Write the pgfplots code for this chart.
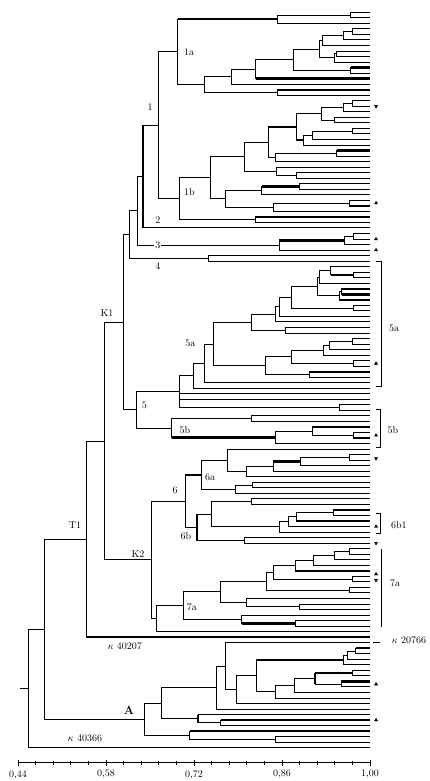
\documentclass[border=0pt]{standalone}
\usepackage{pgfplots}
\pgfplotsset{compat=1.18}
\usetikzlibrary{calc}
\begin{document}
\begin{tikzpicture}
\begin{axis}[name=ax, scale only axis, width=352pt, height=762.7pt,
  xmin=0.44, xmax=1.00, ymin=-2.224, ymax=135.70, y dir=reverse,
  axis x line=bottom, axis y line=none, clip=false,
  x axis line style={-, line width=1pt},
  xtick={0.44,0.58,0.72,0.86,1.00},
  xticklabels={{0,44},{0,58},{0,72},{0,86},{1,00}},
  minor x tick num=4, tick align=center, major tick length=6pt, minor tick length=4pt,
  tick style={black, line width=1pt},
  xticklabel style={font=\normalsize, yshift=-1pt},
  unbounded coords=jump]
% ---------- normal branches ----------
\addplot[black, line width=1pt, mark=none] table[row sep=\\] {x y\\
1 0\\ .9693 0\\ .9693 1\\ 1 1\\ nan nan\\
.9693 0.5\\ .8532 0.5\\ .8532 2\\ 1 2\\ nan nan\\
1 3\\ .9714 3\\ .9714 4\\ 1 4\\ nan nan\\
.9714 3.5\\ .9586 3.5\\ .9586 5\\ 1 5\\ nan nan\\
.9586 4.25\\ .9252 4.25\\ .9252 6\\ 1 6\\ nan nan\\
1 7\\ .9470 7\\ .9470 8\\ 1 8\\ nan nan\\
.9470 7.5\\ .9443 7.5\\ .9443 9\\ 1 9\\ nan nan\\
.9252 5.125\\ .9204 5.125\\ .9204 8.25\\ .9443 8.25\\ nan nan\\
1 10\\ .9693 10\\ .9693 11\\ 1 11\\ nan nan\\
.9204 6.69\\ .8775 6.69\\ .8775 10.5\\ .9693 10.5\\ nan nan\\
.8775 8.6\\ .8186 8.6\\ .8186 12\\ 1 12\\ nan nan\\
.8186 10.3\\ .7800 10.3\\ .7800 13\\ 1 13\\ nan nan\\
1 14\\ .8536 14\\ .8536 15\\ 1 15\\ nan nan\\
.7800 11.65\\ .7364 11.65\\ .7364 14.5\\ .8536 14.5\\ nan nan\\
.8532 1.25\\ .6941 1.25\\ .6941 13.08\\ .7364 13.08\\ nan nan\\
1 16\\ .9714 16\\ .9714 17\\ 1 17\\ nan nan\\
.9714 16.5\\ .9586 16.5\\ .9586 18\\ 1 18\\ nan nan\\
1 19\\ .9443 19\\ .9443 20\\ 1 20\\ nan nan\\
.9586 17.25\\ .9231 17.25\\ .9231 19.5\\ .9443 19.5\\ nan nan\\
1 21\\ .9718 21\\ .9718 22\\ 1 22\\ nan nan\\
.9718 21.5\\ .9082 21.5\\ .9082 23\\ 1 23\\ nan nan\\
.9082 22.25\\ .8939 22.25\\ .8939 24\\ 1 24\\ nan nan\\
.9231 18.375\\ .8834 18.375\\ .8834 23.125\\ .8939 23.125\\ nan nan\\
1 25\\ .9470 25\\ .9470 26\\ 1 26\\ nan nan\\
.9470 25.5\\ .8489 25.5\\ .8489 27\\ 1 27\\ nan nan\\
.8834 20.75\\ .8382 20.75\\ .8382 26.25\\ .8489 26.25\\ nan nan\\
1 29\\ .8834 29\\ .8834 30\\ 1 30\\ nan nan\\
1 28\\ .8516 28\\ .8516 29.5\\ .8834 29.5\\ nan nan\\
.8382 23.5\\ .8011 23.5\\ .8011 28.75\\ .8516 28.75\\ nan nan\\
1 31\\ .8886 31\\ .8886 32\\ 1 32\\ nan nan\\
.8886 31.5\\ .8277 31.5\\ .8277 33\\ 1 33\\ nan nan\\
1 34\\ .9671 34\\ .9671 35\\ 1 35\\ nan nan\\
.9671 34.5\\ .8462 34.5\\ .8462 36\\ 1 36\\ nan nan\\
.8277 32.25\\ .7709 32.25\\ .7709 35.25\\ .8462 35.25\\ nan nan\\
.8011 26.125\\ .7470 26.125\\ .7470 33.75\\ .7709 33.75\\ nan nan\\
1 37\\ .8186 37\\ .8186 38\\ 1 38\\ nan nan\\
.7470 29.94\\ .6966 29.94\\ .6966 37.5\\ .8186 37.5\\ nan nan\\
.6941 7.165\\ .6632 7.165\\ .6632 33.72\\ .6966 33.72\\ nan nan\\
.6632 20.44\\ .6384 20.44\\ .6384 39\\ 1 39\\ nan nan\\
1 40\\ .9734 40\\ .9734 41\\ 1 41\\ nan nan\\
.9734 40.5\\ .9602 40.5\\ .9602 42\\ 1 42\\ nan nan\\
.9602 41.25\\ .8557 41.25\\ .8557 43\\ 1 43\\ nan nan\\
.6384 29.72\\ .6304 29.72\\ .6304 42.125\\ .8557 42.125\\ nan nan\\
1 44\\ .7427 44\\ .7427 45\\ 1 45\\ nan nan\\
.6304 35.92\\ .6171 35.92\\ .6171 44.5\\ .7427 44.5\\ nan nan\\
1 47\\ .9734 47\\ .9734 48\\ 1 48\\ nan nan\\
1 46\\ .9375 46\\ .9375 47.5\\ .9734 47.5\\ nan nan\\
.9375 46.75\\ .9204 46.75\\ .9204 49\\ 1 49\\ nan nan\\
1 50\\ .9550 50\\ .9550 51\\ 1 51\\ nan nan\\
.9550 50.5\\ .9511 50.5\\ .9511 52\\ 1 52\\ nan nan\\
.9204 47.875\\ .9162 47.875\\ .9162 51.25\\ .9511 51.25\\ nan nan\\
1 53\\ .9734 53\\ .9734 54\\ 1 54\\ nan nan\\
.9162 49.56\\ .8754 49.56\\ .8754 53.5\\ .9734 53.5\\ nan nan\\
.8754 51.53\\ .8568 51.53\\ .8568 55\\ 1 55\\ nan nan\\
.8568 53.27\\ .8489 53.27\\ .8489 56\\ 1 56\\ nan nan\\
1 57\\ .8648 57\\ .8648 58\\ 1 58\\ nan nan\\
.8489 54.63\\ .8107 54.63\\ .8107 57.5\\ .8648 57.5\\ nan nan\\
1 59\\ .9718 59\\ .9718 60\\ 1 60\\ nan nan\\
.9718 59.5\\ .9352 59.5\\ .9352 61\\ 1 61\\ nan nan\\
.9352 60.25\\ .9257 60.25\\ .9257 62\\ 1 62\\ nan nan\\
1 63\\ .9734 63\\ .9734 64\\ 1 64\\ nan nan\\
.9257 61.125\\ .8754 61.125\\ .8754 63.5\\ .9734 63.5\\ nan nan\\
1 65\\ .9045 65\\ .9045 66\\ 1 66\\ nan nan\\
.8754 62.31\\ .8345 62.31\\ .8345 65.5\\ .9045 65.5\\ nan nan\\
.8107 56.07\\ .7507 56.07\\ .7507 63.91\\ .8345 63.91\\ nan nan\\
.7507 59.99\\ .7364 59.99\\ .7364 67\\ 1 67\\ nan nan\\
.7364 63.5\\ .7189 63.5\\ .7189 68\\ 1 68\\ nan nan\\
1 71\\ .9507 71\\ .9507 72\\ 1 72\\ nan nan\\
.7189 65.75\\ .6977 65.75\\ .6977 71.5\\ .9507 71.5\\ nan nan\\
.6977 69\\ 1 69\\ nan nan\\ .6977 70\\ 1 70\\ nan nan\\
1 76\\ .9734 76\\ .9734 77\\ 1 77\\ nan nan\\
1 75\\ .9082 75\\ .9082 76.5\\ .9734 76.5\\ nan nan\\
.9082 75.75\\ .8489 75.75\\ .8489 78\\ 1 78\\ nan nan\\
1 73\\ .8118 73\\ .8118 74\\ 1 74\\ nan nan\\
.8118 73.5\\ .6845 73.5\\ .6845 76.875\\ .8489 76.875\\ nan nan\\
.6977 68.625\\ .6288 68.625\\ .6288 75.19\\ .6845 75.19\\ nan nan\\
.6171 40.21\\ .6075 40.21\\ .6075 71.91\\ .6288 71.91\\ nan nan\\
1 80\\ .9671 80\\ .9671 81\\ 1 81\\ nan nan\\
.9671 80.5\\ .8902 80.5\\ .8902 82\\ 1 82\\ nan nan\\
.8902 81.25\\ .8462 81.25\\ .8462 83\\ 1 83\\ nan nan\\
.8462 82.125\\ .8038 82.125\\ .8038 84\\ 1 84\\ nan nan\\
1 79\\ .7730 79\\ .7730 83.06\\ .8038 83.06\\ nan nan\\
1 85\\ .8134 85\\ .8134 86\\ 1 86\\ nan nan\\
.8134 85.5\\ .7868 85.5\\ .7868 87\\ 1 87\\ nan nan\\
.7730 81.03\\ .7322 81.03\\ .7322 86.25\\ .7868 86.25\\ nan nan\\
1 88\\ .8118 88\\ .8118 89\\ 1 89\\ nan nan\\
1 90\\ .9416 90\\ .9416 91\\ 1 91\\ nan nan\\
.9416 90.5\\ .8834 90.5\\ .8834 92\\ 1 92\\ nan nan\\
.8834 91.25\\ .8700 91.25\\ .8700 93\\ 1 93\\ nan nan\\
.8700 92.125\\ .8568 92.125\\ .8568 94\\ 1 94\\ nan nan\\
.8118 88.5\\ .7482 88.5\\ .7482 93.06\\ .8568 93.06\\ nan nan\\
1 95\\ .8011 95\\ .8011 96\\ 1 96\\ nan nan\\
.7482 90.78\\ .7243 90.78\\ .7243 95.5\\ .8011 95.5\\ nan nan\\
.7322 83.64\\ .7057 83.64\\ .7057 93.14\\ .7243 93.14\\ nan nan\\
1 97\\ .9671 97\\ .9671 98\\ 1 98\\ nan nan\\
.9671 97.5\\ .9432 97.5\\ .9432 99\\ 1 99\\ nan nan\\
.9432 98.25\\ .9109 98.25\\ .9109 100\\ 1 100\\ nan nan\\
.9109 99.125\\ .8807 99.125\\ .8807 101\\ 1 101\\ nan nan\\
1 102\\ .9725 102\\ .9725 103\\ 1 103\\ nan nan\\
.8807 100.06\\ .8462 100.06\\ .8462 102.5\\ .9725 102.5\\ nan nan\\
1 104\\ .9671 104\\ .9671 105\\ 1 105\\ nan nan\\
.8462 101.28\\ .8357 101.28\\ .8357 104.5\\ .9671 104.5\\ nan nan\\
1 107\\ .8875 107\\ .8875 108\\ 1 108\\ nan nan\\
1 106\\ .8038 106\\ .8038 107.5\\ .8875 107.5\\ nan nan\\
.8357 102.89\\ .7614 102.89\\ .7614 106.75\\ .8038 106.75\\ nan nan\\
1 110\\ .8807 110\\ .8807 111\\ 1 111\\ nan nan\\
1 109\\ .7959 109\\ .7959 110.5\\ .8807 110.5\\ nan nan\\
.7614 104.82\\ .7030 104.82\\ .7030 109.75\\ .7959 109.75\\ nan nan\\
.7030 107.29\\ .6607 107.29\\ .6607 112\\ 1 112\\ nan nan\\
.7057 88.39\\ .6527 88.39\\ .6527 109.64\\ .6607 109.64\\ nan nan\\
.6075 56.06\\ .5784 56.06\\ .5784 99.02\\ .6527 99.02\\ nan nan\\
.5784 77.54\\ .5493 77.54\\ .5493 113\\ 1 113\\ nan nan\\
1 115\\ .9777 115\\ .9777 116\\ 1 116\\ nan nan\\
.9777 115.5\\ .9639 115.5\\ .9639 117\\ 1 117\\ nan nan\\
.9639 116.25\\ .9586 116.25\\ .9586 118\\ 1 118\\ nan nan\\
1 119\\ .9714 119\\ .9714 120\\ 1 120\\ nan nan\\
1 121\\ .9539 121\\ .9539 122\\ 1 122\\ nan nan\\
.9714 119.5\\ .9125 119.5\\ .9125 121.5\\ .9539 121.5\\ nan nan\\
.9125 120.5\\ .8796 120.5\\ .8796 123\\ 1 123\\ nan nan\\
.8796 121.75\\ .8489 121.75\\ .8489 124\\ 1 124\\ nan nan\\
.9586 117.125\\ .8197 117.125\\ .8197 122.875\\ .8489 122.875\\ nan nan\\
.8197 120\\ .7879 120\\ .7879 125\\ 1 125\\ nan nan\\
1 114\\ .7709 114\\ .7709 122.5\\ .7879 122.5\\ nan nan\\
.7709 118.25\\ .7561 118.25\\ .7561 126\\ 1 126\\ nan nan\\
1 128\\ .7625 128\\ .7625 129\\ 1 129\\ nan nan\\
1 127\\ .7268 127\\ .7268 128.5\\ .7625 128.5\\ nan nan\\
.7561 122.13\\ .6686 122.13\\ .6686 127.75\\ .7268 127.75\\ nan nan\\
1 131\\ .8489 131\\ .8489 132\\ 1 132\\ nan nan\\
1 130\\ .7136 130\\ .7136 131.5\\ .8489 131.5\\ nan nan\\
.6686 124.94\\ .6409 124.94\\ .6409 130.75\\ .7136 130.75\\ nan nan\\
.5493 95.27\\ .4818 95.27\\ .4818 127.85\\ .6409 127.85\\ nan nan\\
.4818 111.56\\ .4564 111.56\\ .4564 133\\ 1 133\\ nan nan\\
.4432 122.28\\ .4564 122.28\\
};
% ---------- thick branches ----------
\addplot[black, line width=2.4pt, mark=none] table[row sep=\\] {x y\\
.6941 1.25\\ .8532 1.25\\ nan nan\\
.8186 12\\ 1 12\\ nan nan\\
.9693 10\\ 1 10\\ nan nan\\
.8536 14\\ 1 14\\ nan nan\\
.8382 20.75\\ .8834 20.75\\ nan nan\\
.8834 23.125\\ .8939 23.125\\ nan nan\\
.9470 25\\ 1 25\\ nan nan\\
.8277 31.5\\ .8886 31.5\\ nan nan\\
.9671 35\\ 1 35\\ nan nan\\
.8186 37\\ 1 37\\ nan nan\\
.6384 20.44\\ .6384 39\\ nan nan\\
.8557 41.25\\ .9602 41.25\\ nan nan\\
.9375 47.5\\ .9734 47.5\\ nan nan\\
.9550 50\\ 1 50\\ nan nan\\
.9550 51\\ 1 51\\ nan nan\\
.9511 52\\ 1 52\\ nan nan\\
.9045 65\\ 1 65\\ nan nan\\
.9082 75\\ 1 75\\ nan nan\\
.9734 77\\ 1 77\\ nan nan\\
.6845 76.875\\ .8489 76.875\\ nan nan\\
.8462 81.25\\ .8902 81.25\\ nan nan\\
.7057 83.64\\ .7322 83.64\\ nan nan\\
.7243 90.78\\ .7243 95.5\\ nan nan\\
.9416 90\\ 1 90\\ nan nan\\
.8834 92\\ 1 92\\ nan nan\\
.8807 101\\ 1 101\\ nan nan\\
.7959 110.5\\ .8807 110.5\\ nan nan\\
.5493 113\\ 1 113\\ nan nan\\
.8197 117.125\\ .9586 117.125\\ nan nan\\
.9125 119.5\\ .9714 119.5\\ nan nan\\
.9125 119.5\\ .9125 121.5\\ nan nan\\
.9539 121\\ 1 121\\ nan nan\\
.9777 115\\ 1 115\\ nan nan\\
.7268 127\\ .7268 128.5\\ nan nan\\
.7625 128\\ 1 128\\ nan nan\\
.7136 130\\ 1 130\\ nan nan\\
};
% ---------- leaf markers ----------
\addplot[only marks, mark=triangle*, mark size=1.8pt, black] coordinates {
(1.0096,34.5) (1.0096,41) (1.0096,43) (1.0096,63.5) (1.0096,76.5)
(1.0096,93) (1.0096,101.6) (1.0096,121.5) (1.0096,128)};
\addplot[only marks, mark=triangle*, mark size=1.8pt, black, mark options={rotate=180}] coordinates {
(1.0096,17) (1.0096,80.7) (1.0096,96) (1.0096,102.7)};
% ---------- brackets ----------
\draw[line width=1pt] (axis cs:1.0096,45.1) -- (axis cs:1.0175,45.1) -- (axis cs:1.0175,67.7) -- (axis cs:1.0096,67.7);
\draw[line width=1pt] (axis cs:1.0096,71.9) -- (axis cs:1.0160,71.9) -- (axis cs:1.0160,78.7) -- (axis cs:1.0096,78.7);
\draw[line width=1pt] (axis cs:1.0096,90.6) -- (axis cs:1.0170,90.6) -- (axis cs:1.0170,94.2) -- (axis cs:1.0096,94.2);
\draw[line width=1pt] (axis cs:1.0175,97.1) -- (axis cs:1.0175,111.1);
\draw[line width=1pt] (axis cs:1.005,114) -- (axis cs:1.016,114);
% ---------- labels ----------
\node[anchor=west] at (axis cs:0.6985,7.2) {1a};
\node at (axis cs:0.650,17.2) {1};
\node[anchor=west] at (axis cs:0.6985,32.6) {1b};
\node at (axis cs:0.6627,37.6) {2};
\node[fill=white, inner sep=1pt] at (axis cs:0.6627,42.13) {3};
\node at (axis cs:0.6627,45.9) {4};
\node at (axis cs:0.5816,54.4) {K1};
\node at (axis cs:0.7144,59.8) {5a};
\node at (axis cs:0.641,71.0) {5};
\node[fill=white, inner sep=1pt] at (axis cs:0.7057,75.5) {5b};
\node at (axis cs:0.6898,86.4) {6};
\node at (axis cs:0.7455,84.0) {6a};
\node at (axis cs:0.7073,94.8) {6b};
\node at (axis cs:0.6309,98.0) {K2};
\node at (axis cs:0.5307,92.7) {T1};
\node at (axis cs:0.7168,107.5) {7a};
\node at (axis cs:0.610,114.6) {$\kappa$ 40207};
\node at (axis cs:0.5466,131.2) {$\kappa$ 40366};
\node[font=\large] at (axis cs:0.6166,126.2) {\textbf{A}};
\node at (axis cs:1.0382,57.1) {5a};
\node at (axis cs:1.0366,75.5) {5b};
\node at (axis cs:1.046,92.7) {6b1};
\node at (axis cs:1.040,103.2) {7a};
\node at (axis cs:1.062,113.5) {$\kappa$ 20766};
\end{axis}
\pgfresetboundingbox
\path[use as bounding box] ($(ax.south west)+(-18pt,-18.3pt)$) rectangle ($(ax.north east)+(59pt,0pt)$);
\end{tikzpicture}
\end{document}
